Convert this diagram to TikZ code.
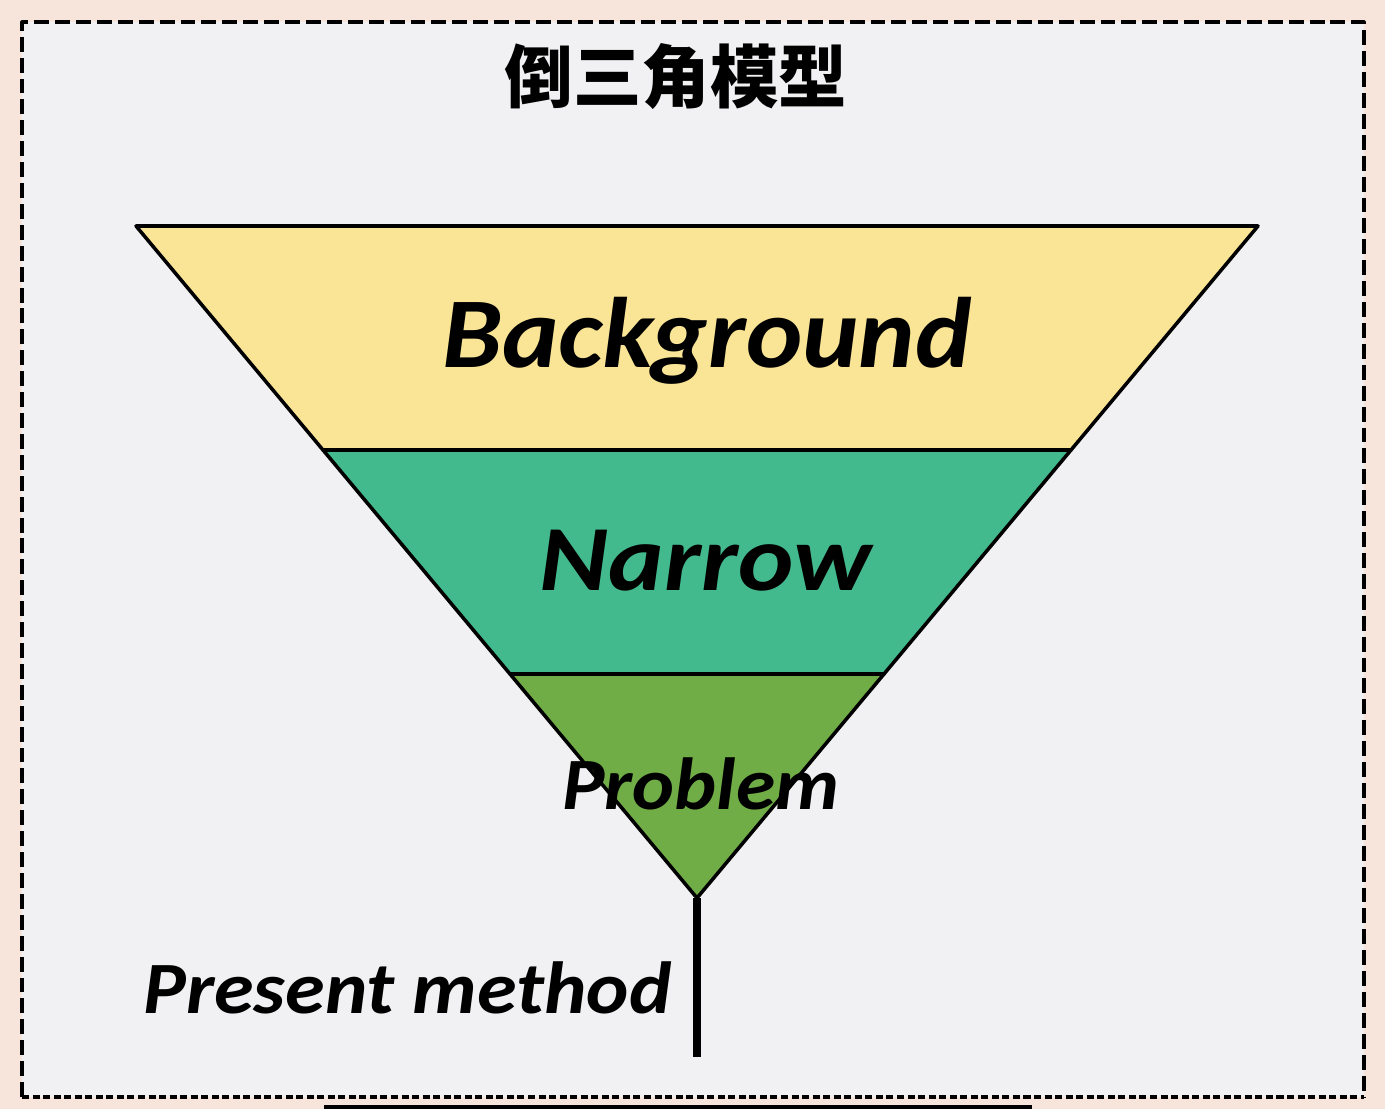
\documentclass[tikz,border=0pt]{standalone}
\usepackage{fontspec}
\setmainfont{Carlito}
\newfontfamily\cjk{Noto Sans CJK SC}
\usetikzlibrary{calc}
\definecolor{peach}{RGB}{247,228,218}
\definecolor{panel}{RGB}{241,241,243}
\definecolor{bgyellow}{RGB}{250,229,150}
\definecolor{narrowteal}{RGB}{67,185,142}
\definecolor{probgreen}{RGB}{112,173,71}
\tikzset{
  frame/.style={line width=1.8pt, dash pattern=on 8.5pt off 3.4pt},
  layer/.style={draw=black, line width=2pt},
  word/.style={font=\bfseries\itshape, anchor=base, inner sep=0pt},
}

\begin{document}
\begin{tikzpicture}[x=0.02cm, y=-0.02cm, line join=round]
	\def\xl{136} \def\xr{1258} \def\xm{697} \def\yt{226} \def\ya{898}
	\fill[peach] (0,0) rectangle (1385,1109);
	\useasboundingbox (0,0) rectangle (1385,1109);
	\fill[panel] (22,22) rectangle (1364,1097);
	\draw[frame] (22,1097)--(22,22)--(1364,22)--(1364,1097);
	\draw[frame, dash pattern=on 4pt off 2pt] (22,1097)--(1364,1097);
	\draw[line width=2.4pt] (324,1107)--(1032,1107);
	\node[font=\cjk\bfseries\fontsize{39}{42}\selectfont] (title) at (676,77) {倒三角模型};
	% the three layers of the funnel
	\coordinate (TL) at (\xl,\yt); \coordinate (TR) at (\xr,\yt); \coordinate (A) at (\xm,\ya);
	\foreach \k/\t in {1/{1/3},2/{2/3}}
	{\coordinate (L\k) at ($(TL)!\t!(A)$); \coordinate (R\k) at ($(TR)!\t!(A)$);}
	\filldraw[layer, fill=bgyellow] (TL)--(TR)--(R1)--(L1)--cycle;
	\filldraw[layer, fill=narrowteal] (L1)--(R1)--(R2)--(L2)--cycle;
	\filldraw[layer, fill=probgreen] (L2)--(R2)--(A)--cycle;
	\node[word, font=\bfseries\itshape\fontsize{57}{60}\selectfont] (bg) at (707,367) {\scalebox{1.07}[1]{Background}};
	\node[word, font=\bfseries\itshape\fontsize{53}{56}\selectfont] (nar) at (706,590) {\scalebox{1.13}[1]{Narrow}};
	\node[word, font=\bfseries\itshape\fontsize{42}{45}\selectfont] (prob) at (701,809) {\scalebox{1.08}[1]{Problem}};
	% stem and its label
	\coordinate (S) at (\xm,1057);
	\draw[line width=4pt] (A)--(S);
	\node[word, anchor=base east, font=\bfseries\itshape\fontsize{42}{45}\selectfont] (pm) at (672,1013) {\scalebox{1.09}[1]{Present method}};
\end{tikzpicture}
\end{document}
